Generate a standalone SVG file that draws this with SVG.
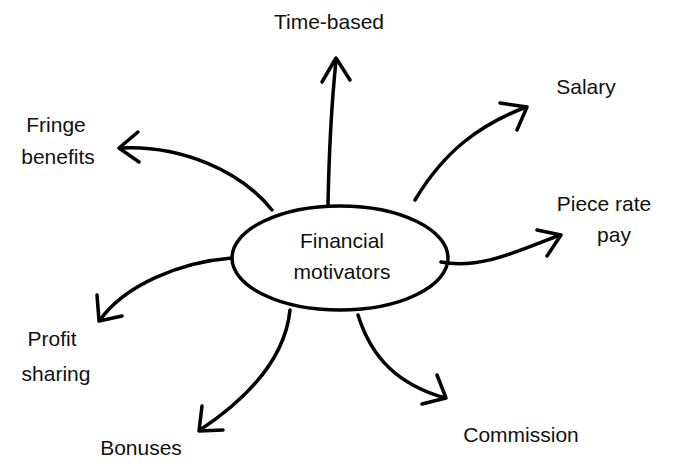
<svg xmlns="http://www.w3.org/2000/svg" width="677" height="469" viewBox="0 0 677 469">
<style>
.l{fill:none;stroke:#000;stroke-width:3.5;stroke-linecap:round;stroke-linejoin:round}
.t{font-family:"Liberation Sans",Arial,sans-serif;font-size:21px;fill:#111}
</style>
<rect width="677" height="469" fill="#fff"/>
<g id="connectors">
<path class="l" d="M328 205 C329 150 332 100 336 60"/><path class="l" d="M322 82 L336 58 L350 80"/>
<path class="l" d="M415 200 C445 150 480 125 526 107"/><path class="l" d="M500 103 L527 107 L517 130"/>
<path class="l" d="M441 262 C480 270 520 250 560 235"/><path class="l" d="M537 230 L561 235 L547 256"/>
<path class="l" d="M358 315 C372 360 400 385 445 398"/><path class="l" d="M437 375 L446 398 L422 404"/>
<path class="l" d="M290 310 C285 360 245 400 200 430"/><path class="l" d="M202 406 L199 431 L223 430"/>
<path class="l" d="M232 258 C180 262 125 285 100 320"/><path class="l" d="M97 295 L99 321 L122 316"/>
<path class="l" d="M272 210 C240 170 180 145 120 148"/><path class="l" d="M138 132 L119 148 L139 162"/>
</g>
<g id="center"><ellipse cx="340" cy="258" rx="108" ry="52" class="l"/>
<text class="t" x="342" y="248" text-anchor="middle" font-size="23">Financial</text><text class="t" x="342" y="279" text-anchor="middle" font-size="23">motivators</text></g>
<g id="n1"><text class="t" x="329" y="29" text-anchor="middle">Time-based</text></g>
<g id="n2"><text class="t" x="586" y="94" text-anchor="middle">Salary</text></g>
<g id="n3"><text class="t" x="604" y="211" text-anchor="middle">Piece rate</text><text class="t" x="614" y="242" text-anchor="middle">pay</text></g>
<g id="n4"><text class="t" x="521" y="442" text-anchor="middle">Commission</text></g>
<g id="n5"><text class="t" x="141" y="455" text-anchor="middle">Bonuses</text></g>
<g id="n6"><text class="t" x="52" y="346" text-anchor="middle">Profit</text><text class="t" x="56" y="381" text-anchor="middle">sharing</text></g>
<g id="n7"><text class="t" x="56" y="132" text-anchor="middle">Fringe</text><text class="t" x="58" y="164" text-anchor="middle">benefits</text></g>
</svg>
